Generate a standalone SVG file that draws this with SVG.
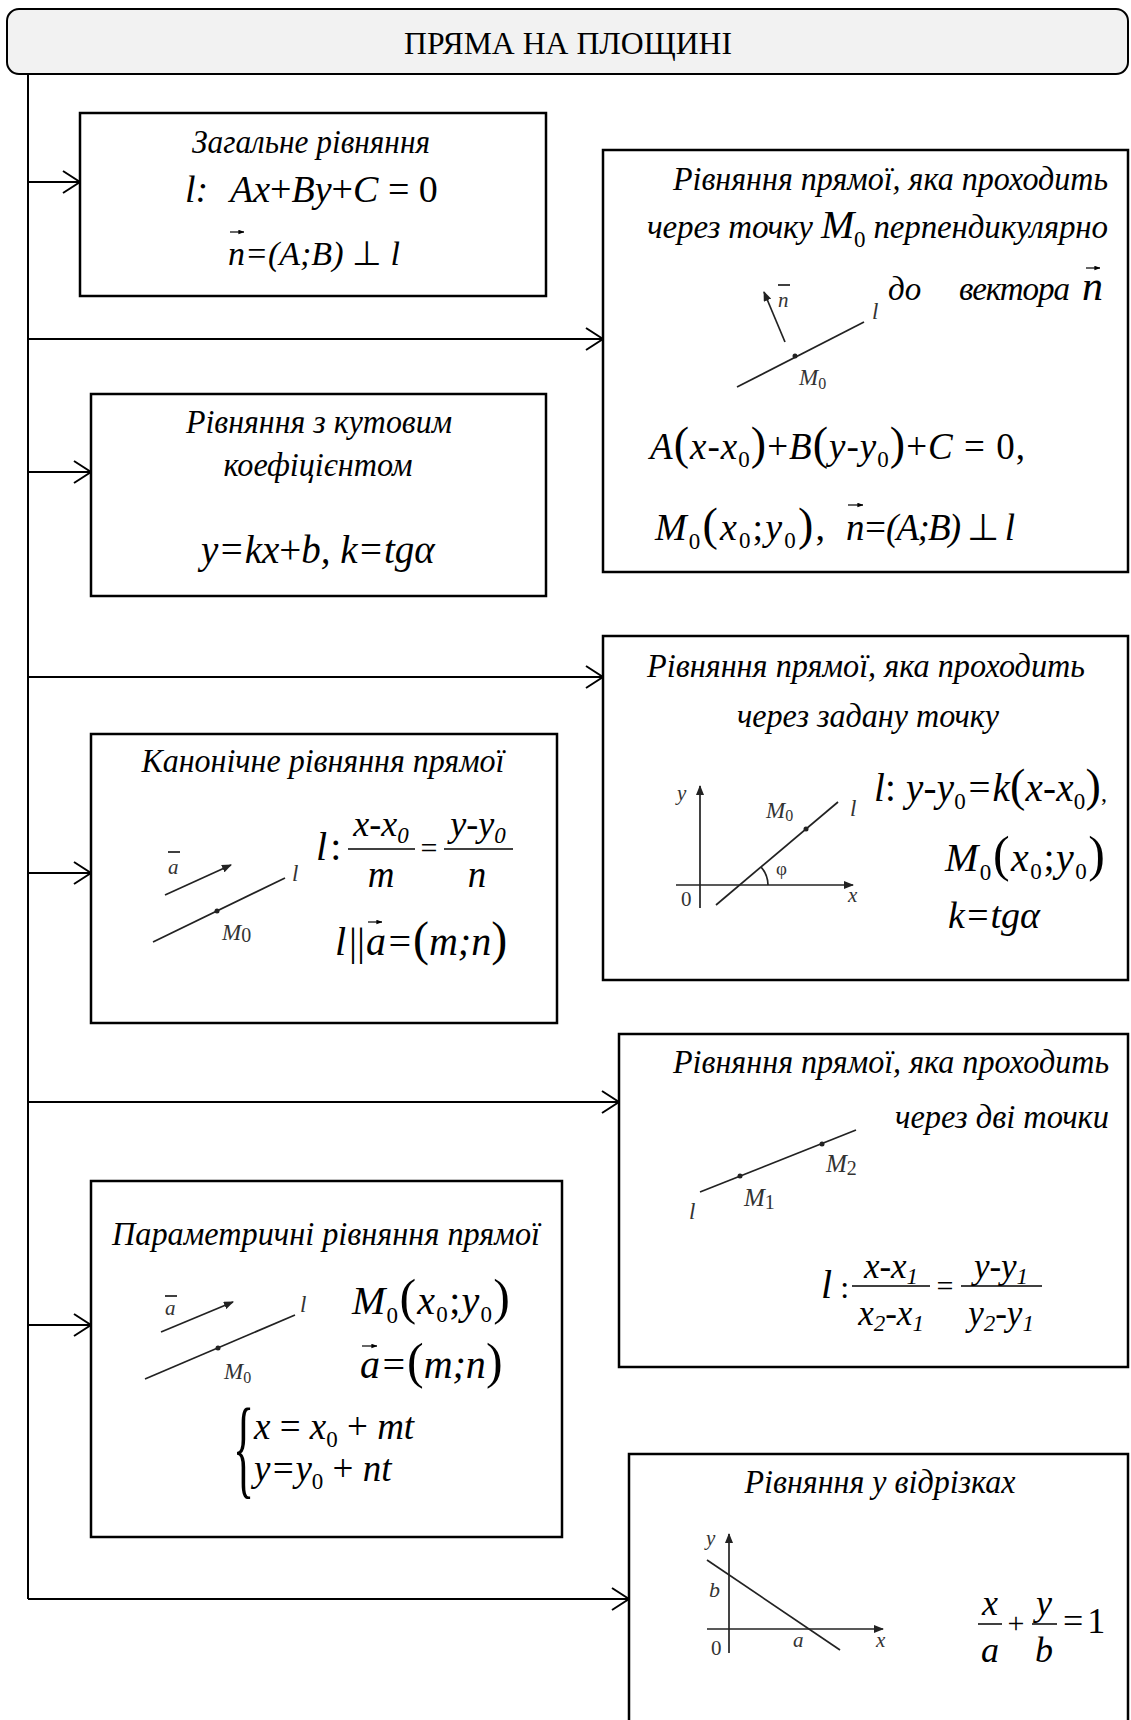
<svg xmlns="http://www.w3.org/2000/svg" width="1131" height="1720" viewBox="0 0 1131 1720">
<style>
.box{fill:#fff;stroke:#000;stroke-width:2.5}
.hdr{fill:#f2f2f2;stroke:#000;stroke-width:2}
.t{font-family:"Liberation Serif","Times New Roman",serif;font-style:italic;font-size:33px;fill:#000}
.hd{font-family:"Liberation Serif","Times New Roman",serif;font-size:32px;fill:#000}
.f{font-family:"Liberation Serif","Times New Roman",serif;font-style:italic;font-size:37px;fill:#000}
.u{font-style:normal}
.p{font-style:normal;font-size:46px}
.s{font-style:normal;font-size:23px}
.si{font-size:23px}
.conn{stroke:#000;stroke-width:2;fill:none}
.fig{stroke:#222;stroke-width:1.7;fill:none}
.ax{stroke:#444;stroke-width:2;fill:none}
.vec{stroke:#000;stroke-width:1.2;fill:none}
.bar{stroke:#000;stroke-width:1.5}
.lbl{font-family:"Liberation Serif","Times New Roman",serif;font-style:italic;font-size:23px;fill:#333}
.lu{font-style:normal}
.ls{font-style:normal;font-size:16px}
</style>
<defs>
<marker id="ah" viewBox="0 0 20 24" refX="19" refY="12" markerWidth="20" markerHeight="24" orient="auto" markerUnits="userSpaceOnUse">
<path d="M2,1 L19,12 L2,23" fill="none" stroke="#000" stroke-width="2"/>
</marker>
<marker id="fa" viewBox="0 0 10 8" refX="9" refY="4" markerWidth="10" markerHeight="8" orient="auto" markerUnits="userSpaceOnUse">
<path d="M0,0 L10,4 L0,8 Z" fill="#222"/>
</marker>
<marker id="va" viewBox="0 0 8 6" refX="7.5" refY="3" markerWidth="6" markerHeight="5" orient="auto" markerUnits="userSpaceOnUse">
<path d="M0,0 L8,3 L0,6 Z" fill="#000"/>
</marker>
</defs>

<g id="header">
<rect class="hdr" x="7" y="9" width="1121" height="65" rx="12"/>
<text class="hd" x="568" y="54" text-anchor="middle" textLength="328" lengthAdjust="spacingAndGlyphs">ПРЯМА НА ПЛОЩИНІ</text>
</g>

<g id="connectors">
<line class="conn" x1="28" y1="74" x2="28" y2="1599"/>
<line class="conn" x1="28" y1="182" x2="80" y2="182" marker-end="url(#ah)"/>
<line class="conn" x1="28" y1="339" x2="603" y2="339" marker-end="url(#ah)"/>
<line class="conn" x1="28" y1="472" x2="91" y2="472" marker-end="url(#ah)"/>
<line class="conn" x1="28" y1="677" x2="603" y2="677" marker-end="url(#ah)"/>
<line class="conn" x1="28" y1="873" x2="91" y2="873" marker-end="url(#ah)"/>
<line class="conn" x1="28" y1="1102" x2="619" y2="1102" marker-end="url(#ah)"/>
<line class="conn" x1="28" y1="1325" x2="91" y2="1325" marker-end="url(#ah)"/>
<line class="conn" x1="28" y1="1599" x2="629" y2="1599" marker-end="url(#ah)"/>
</g>

<g id="general">
<rect class="box" x="80" y="113" width="466" height="183"/>
<text class="t" x="311" y="153" text-anchor="middle" textLength="238" lengthAdjust="spacingAndGlyphs">Загальне рівняння</text>
<text class="f" x="185" y="202" style="font-size:38px">l:<tspan x="230">Ax<tspan class="u">+</tspan>By<tspan class="u">+</tspan>C<tspan class="u"> = 0</tspan></tspan></text>
<text class="f" x="228" y="265" style="font-size:34px">n=(A;B)<tspan class="u"> ⊥ </tspan>l</text>
<line class="vec" x1="230" y1="232" x2="244" y2="232" marker-end="url(#va)"/>
</g>

<g id="slope">
<rect class="box" x="91" y="394" width="455" height="202"/>
<text class="t" x="319" y="433" text-anchor="middle" textLength="266" lengthAdjust="spacingAndGlyphs">Рівняння з кутовим</text>
<text class="t" x="318" y="476" text-anchor="middle" textLength="189" lengthAdjust="spacingAndGlyphs">коефіцієнтом</text>
<text class="f" x="201" y="563" style="font-size:39px">y=kx<tspan class="u">+</tspan>b, k=tgα</text>
</g>

<g id="normal">
<rect class="box" x="603" y="150" width="525" height="422"/>
<text class="t" x="1108" y="190" text-anchor="end" textLength="435" lengthAdjust="spacingAndGlyphs">Рівняння прямої, яка проходить</text>
<text class="t" x="1108" y="238" text-anchor="end" textLength="461">через точку <tspan style="font-size:40px">M</tspan><tspan class="s" dy="9">0</tspan><tspan dy="-9"> перпендикулярно</tspan></text>
<text class="t" x="888" y="300">до<tspan x="959" textLength="111">вектора</tspan><tspan x="1082" style="font-size:42px">n</tspan></text>
<line class="vec" x1="1086" y1="268" x2="1100" y2="268" marker-end="url(#va)"/>
<line class="fig" x1="737" y1="387" x2="864" y2="322"/>
<line class="fig" x1="785" y1="342" x2="764" y2="292" marker-end="url(#fa)"/>
<circle cx="795" cy="356" r="2.5" fill="#222"/>
<text class="lbl" x="778" y="307" style="font-size:21px">n</text>
<line class="bar" x1="778" y1="285" x2="790" y2="285" stroke="#333"/>
<text class="lbl" x="872" y="319">l</text>
<text class="lbl" x="799" y="385">M<tspan class="ls" dy="4">0</tspan></text>
<text class="f" x="650" y="459" textLength="375">A<tspan class="p">(</tspan>x-x<tspan class="s" dy="8">0</tspan><tspan class="p" dy="-8">)</tspan><tspan class="u">+</tspan>B<tspan class="p">(</tspan>y-y<tspan class="s" dy="8">0</tspan><tspan class="p" dy="-8">)</tspan><tspan class="u">+</tspan>C<tspan class="u"> = 0,</tspan></text>
<text class="f" x="655" y="540" style="font-size:38px" textLength="170">M<tspan class="s" dy="9">0</tspan><tspan class="p" dy="-9">(</tspan>x<tspan class="s" dy="8">0</tspan><tspan class="u" dy="-8">;</tspan>y<tspan class="s" dy="8">0</tspan><tspan class="p" dy="-8">)</tspan><tspan class="u">,</tspan></text>
<text class="f" x="846" y="540" style="font-size:37px" textLength="169">n=(A;B)<tspan class="u"> ⊥ </tspan>l</text>
<line class="vec" x1="848" y1="505" x2="863" y2="505" marker-end="url(#va)"/>
</g>

<g id="point-slope">
<rect class="box" x="603" y="636" width="525" height="344"/>
<text class="t" x="866" y="677" text-anchor="middle" textLength="438" lengthAdjust="spacingAndGlyphs">Рівняння прямої, яка проходить</text>
<text class="t" x="868" y="727" text-anchor="middle" textLength="262" lengthAdjust="spacingAndGlyphs">через задану точку</text>
<line class="fig" x1="700" y1="908" x2="700" y2="786" marker-end="url(#fa)"/>
<line class="fig" x1="676" y1="885" x2="853" y2="885" marker-end="url(#fa)"/>
<line class="fig" x1="716" y1="905" x2="838" y2="802"/>
<circle cx="806" cy="829" r="2.5" fill="#222"/>
<path class="fig" d="M761,867 A28,28 0 0 1 768,885" stroke-width="1.3"/>
<text class="lbl" x="677" y="800" style="font-size:21px">y</text>
<text class="lbl" x="848" y="902" style="font-size:21px">x</text>
<text class="lbl lu" x="681" y="906" style="font-size:21px">0</text>
<text class="lbl" x="766" y="818">M<tspan class="ls" dy="3">0</tspan></text>
<text class="lbl" x="850" y="816">l</text>
<text class="lbl lu" x="776" y="875" style="font-size:19px">φ</text>
<text class="f" x="874" y="801" style="font-size:39px" textLength="233">l<tspan class="u">:</tspan> y-y<tspan class="s" dy="8">0</tspan><tspan dy="-8">=k</tspan><tspan class="p">(</tspan>x-x<tspan class="s" dy="8">0</tspan><tspan class="p" dy="-8">)</tspan><tspan class="u" style="font-size:24px">,</tspan></text>
<text class="f" x="945" y="871" style="font-size:40px" textLength="160">M<tspan class="s" dy="9">0</tspan><tspan class="p" dy="-9" style="font-size:50px">(</tspan>x<tspan class="s" dy="8">0</tspan><tspan class="u" dy="-8">;</tspan>y<tspan class="s" dy="8">0</tspan><tspan class="p" dy="-8" style="font-size:50px">)</tspan></text>
<text class="f" x="948" y="928" style="font-size:38px">k=tgα</text>
</g>

<g id="canonical">
<rect class="box" x="91" y="734" width="466" height="289"/>
<text class="t" x="323" y="772" text-anchor="middle" textLength="363" lengthAdjust="spacingAndGlyphs">Канонічне рівняння прямої</text>
<line class="fig" x1="165" y1="895" x2="231" y2="865" marker-end="url(#fa)"/>
<text class="lbl" x="168" y="874" style="font-size:21px">a</text>
<line class="bar" x1="168" y1="852" x2="180" y2="852" stroke="#555"/>
<line class="fig" x1="153" y1="942" x2="285" y2="878"/>
<circle cx="217" cy="911" r="2.5" fill="#222"/>
<text class="lbl" x="292" y="881">l</text>
<text class="lbl" x="222" y="940">M<tspan class="ls lu" dy="2" style="font-size:20px">0</tspan></text>
<text class="f" x="316" y="860" style="font-size:40px">l<tspan class="u" dx="3">:</tspan></text>
<text class="f" x="381" y="836" style="font-size:36px" text-anchor="middle">x-x<tspan class="si" dy="7">0</tspan></text>
<line class="bar" x1="348" y1="849" x2="415" y2="849"/>
<text class="f" x="381" y="887" style="font-size:37px" text-anchor="middle">m</text>
<text class="f u" x="429" y="858" style="font-size:30px" text-anchor="middle">=</text>
<text class="f" x="478" y="836" style="font-size:36px" text-anchor="middle">y-y<tspan class="si" dy="7">0</tspan></text>
<line class="bar" x1="444" y1="849" x2="513" y2="849"/>
<text class="f" x="477" y="887" style="font-size:37px" text-anchor="middle">n</text>
<text class="f" x="335" y="955" style="font-size:40px">l<tspan class="u" x="349">||</tspan><tspan x="366">a=</tspan><tspan class="p" style="font-size:48px">(</tspan>m;n<tspan class="p" style="font-size:48px">)</tspan></text>
<line class="vec" x1="368" y1="922" x2="382" y2="922" marker-end="url(#va)"/>
</g>

<g id="two-points">
<rect class="box" x="619" y="1034" width="509" height="333"/>
<text class="t" x="1109" y="1073" text-anchor="end" textLength="436" lengthAdjust="spacingAndGlyphs">Рівняння прямої, яка проходить</text>
<text class="t" x="1109" y="1128" text-anchor="end" textLength="214" lengthAdjust="spacingAndGlyphs">через дві точки</text>
<line class="fig" x1="700" y1="1192" x2="856" y2="1130"/>
<circle cx="740" cy="1176" r="2.5" fill="#222"/>
<circle cx="822" cy="1144" r="2.5" fill="#222"/>
<text class="lbl" x="826" y="1172" style="font-size:25px">M<tspan class="ls lu" dy="3" style="font-size:20px">2</tspan></text>
<text class="lbl" x="744" y="1206" style="font-size:25px">M<tspan class="ls lu" dy="3" style="font-size:20px">1</tspan></text>
<text class="lbl" x="689" y="1219">l</text>
<text class="f" x="821" y="1298" style="font-size:40px">l<tspan class="u" style="font-size:32px"> :</tspan></text>
<text class="f" x="891" y="1278" style="font-size:35px" text-anchor="middle">x-x<tspan class="si" dy="6">1</tspan></text>
<line class="bar" x1="852" y1="1286" x2="930" y2="1286"/>
<text class="f" x="891" y="1325" style="font-size:35px" text-anchor="middle">x<tspan class="si" dy="6">2</tspan><tspan dy="-6">-x</tspan><tspan class="si" dy="6">1</tspan></text>
<text class="f u" x="945" y="1296" style="font-size:30px" text-anchor="middle">=</text>
<text class="f" x="1001" y="1278" style="font-size:35px" text-anchor="middle">y-y<tspan class="si" dy="6">1</tspan></text>
<line class="bar" x1="961" y1="1286" x2="1042" y2="1286"/>
<text class="f" x="1001" y="1325" style="font-size:35px" text-anchor="middle">y<tspan class="si" dy="6">2</tspan><tspan dy="-6">-y</tspan><tspan class="si" dy="6">1</tspan></text>
</g>

<g id="parametric">
<rect class="box" x="91" y="1181" width="471" height="356"/>
<text class="t" x="326" y="1245" text-anchor="middle" textLength="428" lengthAdjust="spacingAndGlyphs">Параметричні рівняння прямої</text>
<line class="fig" x1="161" y1="1332" x2="233" y2="1302" marker-end="url(#fa)"/>
<text class="lbl" x="165" y="1315" style="font-size:21px">a</text>
<line class="bar" x1="165" y1="1296" x2="177" y2="1296" stroke="#555"/>
<line class="fig" x1="145" y1="1379" x2="295" y2="1315"/>
<circle cx="218" cy="1348" r="2.5" fill="#222"/>
<text class="lbl" x="300" y="1312">l</text>
<text class="lbl" x="224" y="1379">M<tspan class="ls" dy="4">0</tspan></text>
<text class="f" x="352" y="1314" style="font-size:40px" textLength="158">M<tspan class="s" dy="9">0</tspan><tspan class="p" dy="-9" style="font-size:50px">(</tspan>x<tspan class="s" dy="8">0</tspan><tspan class="u" dy="-8">;</tspan>y<tspan class="s" dy="8">0</tspan><tspan class="p" dy="-8" style="font-size:50px">)</tspan></text>
<text class="f" x="360" y="1378" style="font-size:40px">a=<tspan class="p" style="font-size:50px">(</tspan>m;n<tspan class="p" style="font-size:50px">)</tspan></text>
<line class="vec" x1="362" y1="1346" x2="377" y2="1346" marker-end="url(#va)"/>
<text class="f u" transform="translate(233,1484) scale(0.4,1)" style="font-size:110px">{</text>
<text class="f" x="254" y="1439" style="font-size:37px">x<tspan class="u"> = </tspan>x<tspan class="s" dy="8">0</tspan><tspan class="u" dy="-8"> + </tspan>mt</text>
<text class="f" x="254" y="1481" style="font-size:37px">y=y<tspan class="s" dy="8">0</tspan><tspan class="u" dy="-8"> + </tspan>nt</text>
</g>

<g id="intercepts">
<rect class="box" x="629" y="1454" width="499" height="280"/>
<text class="t" x="880" y="1493" text-anchor="middle" textLength="271" lengthAdjust="spacingAndGlyphs">Рівняння у відрізках</text>
<line class="ax" x1="729" y1="1653" x2="729" y2="1534" marker-end="url(#fa)"/>
<line class="fig" x1="707" y1="1629" x2="883" y2="1629" marker-end="url(#fa)"/>
<line class="fig" x1="707" y1="1560" x2="840" y2="1650"/>
<text class="lbl" x="706" y="1545" style="font-size:21px">y</text>
<text class="lbl" x="876" y="1647" style="font-size:21px">x</text>
<text class="lbl lu" x="711" y="1655" style="font-size:21px">0</text>
<text class="lbl" x="709" y="1597" style="font-size:22px">b</text>
<text class="lbl" x="793" y="1647" style="font-size:21px">a</text>
<text class="f" x="990" y="1615" style="font-size:36px" text-anchor="middle">x</text>
<line class="bar" x1="978" y1="1624" x2="1002" y2="1624"/>
<text class="f" x="990" y="1662" style="font-size:36px" text-anchor="middle">a</text>
<text class="f u" x="1016" y="1633" style="font-size:30px" text-anchor="middle">+</text>
<text class="f" x="1044" y="1615" style="font-size:36px" text-anchor="middle">y</text>
<line class="bar" x1="1032" y1="1624" x2="1057" y2="1624"/>
<text class="f" x="1044" y="1662" style="font-size:36px" text-anchor="middle">b</text>
<text class="f u" x="1063" y="1633" style="font-size:36px">=<tspan dx="4">1</tspan></text>
</g>
</svg>
